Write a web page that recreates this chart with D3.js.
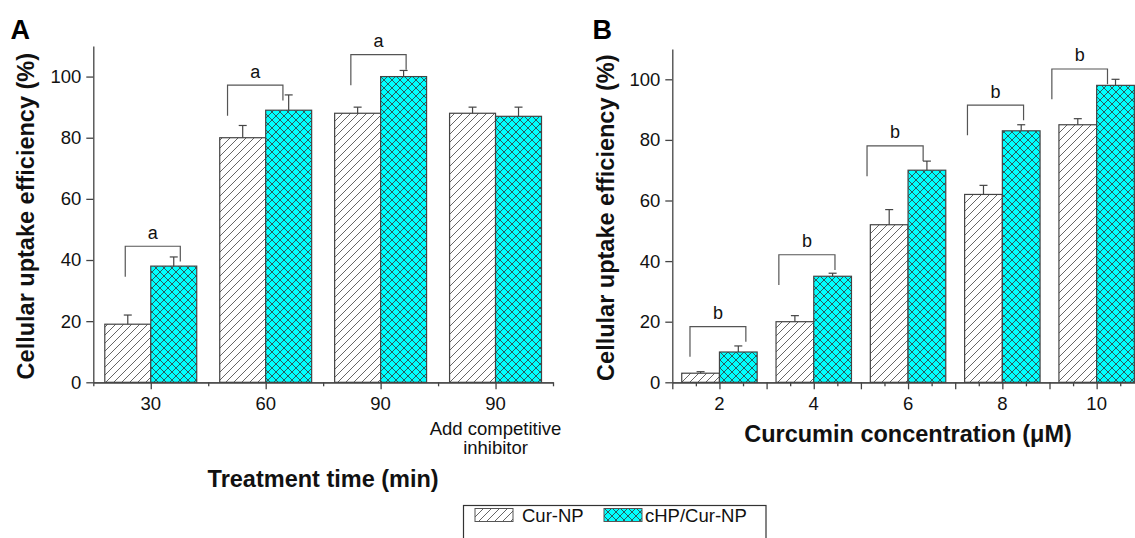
<!DOCTYPE html>
<html><head><meta charset="utf-8">
<script src="https://cdn.jsdelivr.net/npm/d3@7"></script>
<style>
body{margin:0;background:#fff;}
svg{display:block;font-family:"Liberation Sans",Arial,sans-serif;}
</style></head>
<body><svg id="c" width="1135" height="538"></svg>
<script>
// ---------- data ----------
const seriesNames = ["Cur-NP", "cHP/Cur-NP"];
// Panel A
const categoriesA = ["30", "60", "90", "90"];
const curA = [19, 80, 88, 88];
const curErrA = [3, 4, 2, 2];
const chpA = [38, 89, 100, 87];
const chpErrA = [3, 5, 2, 3];
const bracketGroupA = [0, 1, 2];
const bracketTopA = [44.5, 97.2, 107.2];
const bracketLeftA = [0.278, 1.168, 2.241];
const bracketRightA = [0.757, 1.65, 2.722];
// Panel B
const concB = [2, 4, 6, 8, 10];
const curB = [3, 20, 52, 62, 85];
const curErrB = [0.5, 2, 5, 3, 2];
const chpB = [10, 35, 70, 83, 98];
const chpErrB = [2, 1, 3, 2, 2];
const bracketTopB = [18.4, 42.1, 78, 91.5, 103.4];
const bracketLeftB = [1.375, 3.26, 5.13, 7.26, 9.05];
const bracketRightB = [2.56, 4.45, 6.32, 8.45, 10.23];
// axis ticks
const yMajorTicks = [0, 20, 40, 60, 80, 100];
const yMinorTicks = [10, 30, 50, 70, 90, 110];
const sigLabelA = "a", sigLabelB = "b";

// ---------- setup ----------
const svg = d3.select("#c");
const defs = svg.append("defs");
const hatch = defs.append("pattern").attr("id", "hatch").attr("patternUnits", "userSpaceOnUse")
  .attr("width", 8).attr("height", 8);
hatch.append("rect").attr("width", 8).attr("height", 8).attr("fill", "#fff");
hatch.append("path").attr("d", "M-2,2 L2,-2 M0,8 L8,0 M6,10 L10,6")
  .attr("stroke", "#555").attr("stroke-width", 0.9);
const cross = defs.append("pattern").attr("id", "cross").attr("patternUnits", "userSpaceOnUse")
  .attr("width", 8).attr("height", 8);
cross.append("rect").attr("width", 8).attr("height", 8).attr("fill", "#00FFFF");
cross.append("path").attr("d", "M-2,2 L2,-2 M0,8 L8,0 M6,10 L10,6 M-2,6 L2,10 M0,0 L8,8 M6,-2 L10,2")
  .attr("stroke", "#2c5c5c").attr("stroke-width", 1);
const fills = ["url(#hatch)", "url(#cross)"];
const lineCol = "#444";
const titleSize = 23.5;

function drawPanel(opt) {
  const g = svg.append("g");
  const x = opt.x, y = opt.y;
  // bars
  opt.centers.forEach((c, i) => {
    [[opt.s1, opt.e1, -1], [opt.s2, opt.e2, 0]].forEach(([vals, errs, off], k) => {
      const x0 = x(c + off * opt.bw);
      const x1 = x(c + (off + 1) * opt.bw);
      const v = vals[i];
      g.append("rect").attr("x", x0).attr("y", y(v)).attr("width", x1 - x0).attr("height", y(0) - y(v))
        .attr("fill", fills[k]).attr("stroke", lineCol).attr("stroke-width", 1.2);
      const xc = (x0 + x1) / 2;
      g.append("line").attr("x1", xc).attr("x2", xc).attr("y1", y(v)).attr("y2", y(v + errs[i]))
        .attr("stroke", lineCol).attr("stroke-width", 1.2);
      g.append("line").attr("x1", xc - 4).attr("x2", xc + 4).attr("y1", y(v + errs[i])).attr("y2", y(v + errs[i]))
        .attr("stroke", lineCol).attr("stroke-width", 1.2);
    });
  });
  // brackets
  opt.bTop.forEach((t, i) => {
    const xl = x(opt.bLeft[i]), xr = x(opt.bRight[i]);
    g.append("path").attr("d", `M${xl},${y(t - 10)} L${xl},${y(t)} L${xr},${y(t)} L${xr},${y(t - 5)}`)
      .attr("fill", "none").attr("stroke", "#555").attr("stroke-width", 1.2);
    g.append("text").attr("x", (xl + xr) / 2).attr("y", y(t) - 7.5).attr("text-anchor", "middle")
      .attr("font-size", 18).attr("fill", "#111").text(opt.sig);
  });
  // y axis
  const ya = g.append("g").attr("transform", `translate(${opt.x0},0)`);
  ya.call(d3.axisLeft(y).tickValues(yMinorTicks).tickSize(4).tickSizeOuter(0).tickFormat(""));
  ya.call(d3.axisLeft(y).tickValues(yMajorTicks).tickSize(7).tickSizeOuter(0).tickPadding(5));
  // x axis
  const xa = g.append("g").attr("transform", `translate(0,${y(0)})`);
  xa.append("g").call(d3.axisBottom(x).tickValues(opt.xMinor).tickSize(4).tickSizeOuter(0).tickFormat(""));
  xa.append("g").call(d3.axisBottom(x).tickValues(opt.xMajor).tickSize(7).tickSizeOuter(0).tickFormat(""));
  g.selectAll(".domain").attr("stroke", lineCol).attr("stroke-width", 1.3);
  g.selectAll(".tick line").attr("stroke", lineCol).attr("stroke-width", 1.3);
  g.selectAll(".tick text").attr("font-size", 18.5).attr("fill", "#111")
    .attr("font-family", '"Liberation Sans",Arial,sans-serif');
  // x labels
  opt.centers.forEach((c, i) => {
    g.append("text").attr("x", x(c)).attr("y", 410).attr("text-anchor", "middle")
      .attr("font-size", 18.5).attr("fill", "#111").text(opt.labels[i]);
  });
  // y title
  g.append("text").attr("transform", `translate(${opt.ytx},${(y(0) + y(110)) / 2 + 2}) rotate(-90)`)
    .attr("text-anchor", "middle").attr("dy", "0.35em").attr("font-size", titleSize).attr("font-weight", "bold")
    .attr("fill", "#111").text("Cellular uptake efficiency (%)");
  // panel letter
  g.append("text").attr("x", opt.lx).attr("y", 38.5).attr("font-size", 27).attr("font-weight", "bold")
    .attr("fill", "#000").text(opt.letter);
  return g;
}

// Panel A
const xA = d3.scaleLinear().domain([0, 4]).range([93.3, 553]);
const yA = d3.scaleLinear().domain([0, 110]).range([382.3, 46]);
const gA = drawPanel({
  x: xA, y: yA, x0: 93.3, centers: categoriesA.map((d, i) => i + 0.5), bw: 0.4,
  s1: curA, e1: curErrA, s2: chpA, e2: chpErrA,
  bTop: bracketTopA, bLeft: bracketLeftA, bRight: bracketRightA, sig: sigLabelA,
  xMinor: [0, 1, 2, 3, 4], xMajor: [0.5, 1.5, 2.5, 3.5], labels: categoriesA,
  ytx: 26, lx: 10.5, letter: "A"
});
gA.append("text").attr("x", xA(3.5)).attr("y", 434.5).attr("text-anchor", "middle")
  .attr("font-size", 18.5).attr("fill", "#111").text("Add competitive");
gA.append("text").attr("x", xA(3.5)).attr("y", 453.5).attr("text-anchor", "middle")
  .attr("font-size", 18.5).attr("fill", "#111").text("inhibitor");
gA.append("text").attr("x", (xA(0) + xA(4)) / 2).attr("y", 487).attr("text-anchor", "middle")
  .attr("font-size", titleSize).attr("font-weight", "bold").attr("fill", "#111").text("Treatment time (min)");

// Panel B
const xB = d3.scaleLinear().domain([1, 11]).range([672.3, 1143.8]);
const yB = d3.scaleLinear().domain([0, 110]).range([382.3, 49]);
const gB = drawPanel({
  x: xB, y: yB, x0: 672.3, centers: concB, bw: 0.8,
  s1: curB, e1: curErrB, s2: chpB, e2: chpErrB,
  bTop: bracketTopB, bLeft: bracketLeftB, bRight: bracketRightB, sig: sigLabelB,
  xMinor: d3.range(1.5, 11, 1), xMajor: d3.range(1, 12, 1), labels: concB.map(String),
  ytx: 606, lx: 592.5, letter: "B"
});
gB.append("text").attr("x", (xB(1) + xB(11)) / 2).attr("y", 442).attr("text-anchor", "middle")
  .attr("font-size", titleSize).attr("font-weight", "bold").attr("fill", "#111").text("Curcumin concentration (μM)");

// Legend
const lg = svg.append("g");
lg.append("rect").attr("x", 463.5).attr("y", 505.5).attr("width", 302.5).attr("height", 50)
  .attr("fill", "#fff").attr("stroke", "#333").attr("stroke-width", 1.2);
const lgX = [475, 604], lgTX = [522, 645];
seriesNames.forEach((n, k) => {
  lg.append("rect").attr("x", lgX[k]).attr("y", 508.5).attr("width", 38).attr("height", 13)
    .attr("fill", fills[k]).attr("stroke", "#555").attr("stroke-width", 1);
  lg.append("text").attr("x", lgTX[k]).attr("y", 521.5).attr("font-size", 18.5).attr("fill", "#111").text(n);
});
</script></body></html>
